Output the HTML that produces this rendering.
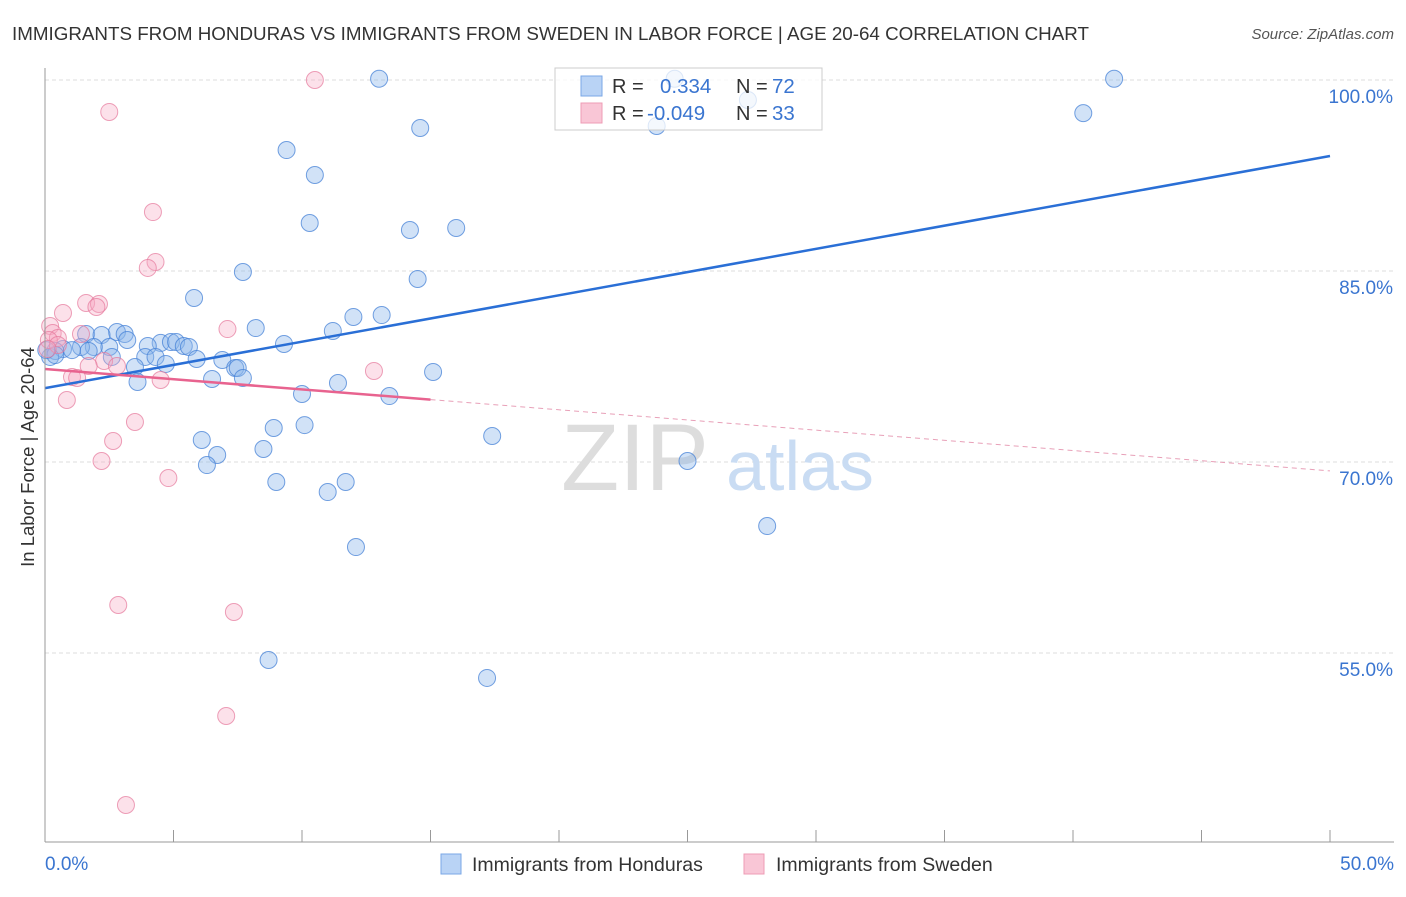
<!DOCTYPE html>
<html><head><meta charset="utf-8"><style>
body{margin:0;background:#fff;font-family:"Liberation Sans",sans-serif;}
svg text{font-family:"Liberation Sans",sans-serif;}
</style></head><body>
<svg id="chart" width="1406" height="892" xmlns="http://www.w3.org/2000/svg">
<text x="12" y="40" font-size="18.8" fill="#333">IMMIGRANTS FROM HONDURAS VS IMMIGRANTS FROM SWEDEN IN LABOR FORCE | AGE 20-64 CORRELATION CHART</text>
<text x="1394" y="39" font-size="15" fill="#555" text-anchor="end" font-style="italic">Source: ZipAtlas.com</text>
<text transform="translate(34,457) rotate(-90)" font-size="18.5" fill="#333" text-anchor="middle">In Labor Force | Age 20-64</text>
<g id="grid"></g>
<g id="watermark">
<text x="635" y="490" font-size="95" fill="#ddd" text-anchor="middle" font-family="Liberation Serif,serif">ZIP</text>
<text x="800" y="490" font-size="70" fill="#c9dcf3" text-anchor="middle">atlas</text>
</g>
<g id="pts"></g>
<g id="lines"></g>
<g id="axes"></g>
<g>
<rect x="555" y="68" width="267" height="62" fill="#fff" fill-opacity="0.75" stroke="#ccc"/>
<rect x="581" y="76" width="21" height="20" fill="#b9d3f5" stroke="#7aa7e6"/>
<rect x="581" y="103" width="21" height="20" fill="#f9c6d6" stroke="#ee9cb5"/>
<text x="612" y="93" font-size="20" fill="#333">R = </text><text x="660" y="93" font-size="20.5" fill="#3a75d0">0.334</text>
<text x="736" y="93" font-size="20" fill="#333">N = </text><text x="772" y="93" font-size="20.5" fill="#3a75d0">72</text>
<text x="612" y="120" font-size="20" fill="#333">R = </text><text x="647" y="120" font-size="20.5" fill="#3a75d0">-0.049</text>
<text x="736" y="120" font-size="20" fill="#333">N = </text><text x="772" y="120" font-size="20.5" fill="#3a75d0">33</text>
</g>
<g>
<rect x="441" y="854" width="20" height="20" fill="#b9d3f5" stroke="#7aa7e6"/>
<text x="472" y="871" font-size="19.5" fill="#333">Immigrants from Honduras</text>
<rect x="744" y="854" width="20" height="20" fill="#f9c6d6" stroke="#ee9cb5"/>
<text x="776" y="871" font-size="19.5" fill="#333">Immigrants from Sweden</text>
</g>
</svg>
<script>
const blueX=[13.0,24.5,41.6,40.4,14.6,23.8,9.4,10.5,10.3,14.2,16.0,7.7,14.5,5.8,12.0,13.1,8.2,11.2,2.8,1.6,2.2,3.1,3.2,4.5,4.9,5.1,4.0,5.4,5.6,9.3,2.5,1.9,1.4,0.7,0.4,1.05,1.7,3.9,4.3,5.9,2.6,4.7,3.5,6.9,7.4,7.5,0.2,0.4,7.7,6.5,3.6,11.4,15.1,10.0,13.4,6.1,10.1,8.9,17.4,8.5,6.7,6.3,25.0,9.0,11.7,11.0,28.1,12.1,8.7,17.2,0.05,27.35];
const blueY=[100.1,100.1,100.1,97.4,96.23,96.39,94.5,92.54,88.77,88.22,88.38,84.92,84.37,82.88,81.39,81.54,80.52,80.29,80.21,80.05,79.97,80.05,79.58,79.35,79.42,79.42,79.11,79.11,79.03,79.27,79.03,79.03,79.03,78.87,78.72,78.79,78.72,78.25,78.25,78.09,78.25,77.7,77.46,78.01,77.38,77.38,78.25,78.4,76.6,76.52,76.28,76.2,77.07,75.34,75.18,71.73,72.9,72.67,72.04,71.02,70.55,69.76,70.08,68.43,68.43,67.64,64.97,63.32,54.45,53.04,78.79,98.43];
const pinkX=[10.5,2.5,4.2,4.3,4.0,1.6,2.1,2.0,0.7,0.2,0.3,0.5,1.4,7.1,0.15,0.5,0.1,12.8,2.3,1.7,2.8,1.05,1.25,4.5,0.85,3.5,2.65,2.2,4.8,2.85,7.35,7.05,3.15];
const pinkY=[100.0,97.49,89.63,85.71,85.24,82.49,82.41,82.17,81.7,80.68,80.13,79.74,80.05,80.44,79.58,79.19,78.87,77.15,77.93,77.54,77.54,76.67,76.6,76.44,74.87,73.14,71.65,70.08,68.74,58.77,58.22,50.05,43.06];
const trendBlue=[75.8,94.03];
const trendPink=[77.3,69.3];
const pinkSolidEnd=15;
const yTicks=[100,85,70,55];
const xTickLabels=["0.0%","50.0%"];

const NS="http://www.w3.org/2000/svg";
const X=v=>45+v*25.7, Y=v=>80+(100-v)*12.733;
function el(t,a,p){const e=document.createElementNS(NS,t);for(const k in a)e.setAttribute(k,a[k]);document.getElementById(p).appendChild(e);return e;}
yTicks.forEach(t=>{
 const l=el('line',{x1:45,x2:1394,y1:Y(t),y2:Y(t),stroke:'#ddd','stroke-dasharray':'4,3'},'grid');
 
 
 const tx=el('text',{x:1393,y:Y(t)+23,'font-size':19,fill:'#3a75d0','text-anchor':'end'},'grid');
 tx.textContent=t.toFixed(1)+'%';
 
 
});
el('line',{x1:45,x2:45,y1:68,y2:842,stroke:'#999'},'axes');
el('line',{x1:45,x2:1394,y1:842,y2:842,stroke:'#999'},'axes');
for(let i=0;i<=10;i++){el('line',{x1:X(i*5),x2:X(i*5),y1:830,y2:842,stroke:'#999'},'axes');}
const t0=el('text',{x:45,y:870,'font-size':19,fill:'#3a75d0'},'axes');t0.textContent=xTickLabels[0];


const t1=el('text',{x:1394,y:870,'font-size':19,fill:'#3a75d0','text-anchor':'end'},'axes');t1.textContent=xTickLabels[1];


blueX.forEach((x,i)=>{
 const c=el('circle',{cx:X(x),cy:Y(blueY[i]),r:8.5,fill:'rgba(140,182,235,0.4)',stroke:'rgba(70,130,215,0.75)','stroke-width':1},'pts');
 
 
});
pinkX.forEach((x,i)=>{
 const c=el('circle',{cx:X(x),cy:Y(pinkY[i]),r:8.5,fill:'rgba(245,170,195,0.35)',stroke:'rgba(230,120,155,0.7)','stroke-width':1},'pts');
 
 
});
const bl=el('line',{x1:X(0),y1:Y(trendBlue[0]),x2:X(50),y2:Y(trendBlue[1]),stroke:'#2a6fd6','stroke-width':2.5},'lines');


const pm=trendPink[0]+(trendPink[1]-trendPink[0])*pinkSolidEnd/50;
const ps=el('line',{x1:X(0),y1:Y(trendPink[0]),x2:X(pinkSolidEnd),y2:Y(pm),stroke:'#e8638f','stroke-width':2.5},'lines');


const pd=el('line',{x1:X(pinkSolidEnd),y1:Y(pm),x2:X(50),y2:Y(trendPink[1]),stroke:'#e8a0b8','stroke-width':1,'stroke-dasharray':'5,4'},'lines');


</script>
</body></html>
